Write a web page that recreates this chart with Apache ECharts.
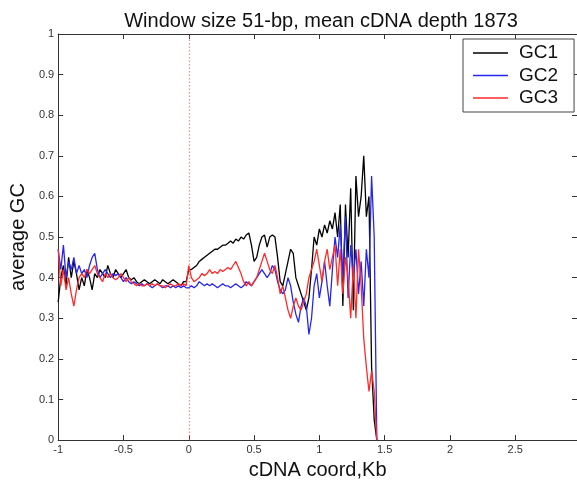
<!DOCTYPE html>
<html>
<head>
<meta charset="utf-8">
<script src="https://cdn.jsdelivr.net/npm/echarts@6/dist/echarts.min.js"></script>
<style>html,body{margin:0;padding:0;background:#fff}#c{width:577px;height:485px}</style>
</head>
<body>
<div id="c"></div>
<script>
var coords = [-1.00,-0.98,-0.96,-0.94,-0.92,-0.90,-0.88,-0.86,-0.84,-0.82,
-0.80,-0.78,-0.76,-0.74,-0.72,-0.70,-0.68,-0.66,-0.64,-0.62,
-0.60,-0.58,-0.56,-0.54,-0.52,-0.50,-0.48,-0.46,-0.44,-0.42,
-0.40,-0.38,-0.36,-0.34,-0.32,-0.30,-0.28,-0.26,-0.24,-0.22,
-0.20,-0.18,-0.16,-0.14,-0.12,-0.10,-0.08,-0.06,-0.04,-0.02,
0.00,0.02,0.04,0.06,0.08,0.10,0.12,0.14,0.16,0.18,
0.20,0.22,0.24,0.26,0.28,0.30,0.32,0.34,0.36,0.38,
0.40,0.42,0.44,0.46,0.48,0.50,0.52,0.54,0.56,0.58,
0.60,0.62,0.64,0.66,0.68,0.70,0.72,0.74,0.76,0.78,
0.80,0.82,0.84,0.86,0.88,0.90,0.92,0.94,0.96,0.98,
1.00,1.02,1.04,1.06,1.08,1.10,1.12,1.14,1.16,1.18,
1.20,1.22,1.24,1.26,1.28,1.30,1.32,1.34,1.36,1.38,
1.40,1.42,1.44];

var gc1 = [0.34,0.40,0.43,0.38,0.45,0.40,0.44,0.41,0.37,0.40,
0.38,0.42,0.40,0.37,0.41,0.40,0.42,0.41,0.40,0.43,
0.41,0.40,0.42,0.41,0.40,0.41,0.42,0.40,0.395,0.40,
0.39,0.385,0.39,0.395,0.39,0.385,0.39,0.395,0.39,0.385,
0.395,0.39,0.385,0.39,0.395,0.39,0.385,0.38,0.39,0.39,
0.42,0.42,0.425,0.43,0.44,0.445,0.45,0.455,0.46,0.465,
0.47,0.47,0.475,0.48,0.48,0.485,0.49,0.485,0.495,0.49,
0.50,0.495,0.505,0.51,0.48,0.44,0.45,0.48,0.50,0.505,
0.475,0.50,0.505,0.50,0.45,0.39,0.38,0.41,0.44,0.47,
0.46,0.40,0.38,0.36,0.34,0.32,0.35,0.42,0.50,0.48,
0.52,0.50,0.53,0.51,0.54,0.52,0.56,0.50,0.58,0.33,
0.58,0.45,0.62,0.32,0.65,0.55,0.60,0.70,0.55,0.60,
0.18,0.05,0.00];

var gc2 = [0.47,0.42,0.48,0.40,0.44,0.42,0.45,0.41,0.43,0.41,
0.42,0.40,0.43,0.45,0.46,0.42,0.40,0.41,0.42,0.41,
0.40,0.41,0.405,0.41,0.40,0.39,0.40,0.39,0.385,0.39,
0.385,0.38,0.385,0.38,0.385,0.38,0.375,0.38,0.385,0.38,
0.375,0.38,0.38,0.375,0.38,0.375,0.38,0.375,0.38,0.375,
0.375,0.38,0.375,0.38,0.39,0.385,0.38,0.385,0.38,0.385,
0.38,0.375,0.38,0.385,0.38,0.38,0.375,0.38,0.385,0.38,
0.375,0.38,0.39,0.385,0.38,0.39,0.40,0.41,0.42,0.41,
0.40,0.41,0.43,0.42,0.39,0.37,0.36,0.37,0.40,0.38,
0.34,0.31,0.29,0.33,0.35,0.33,0.26,0.30,0.38,0.41,
0.35,0.39,0.44,0.38,0.33,0.42,0.50,0.45,0.53,0.40,
0.55,0.35,0.48,0.40,0.47,0.36,0.44,0.33,0.47,0.40,
0.65,0.50,0.00];

var gc3 = [0.47,0.38,0.42,0.37,0.40,0.36,0.33,0.37,0.40,0.41,
0.40,0.42,0.41,0.42,0.43,0.41,0.40,0.39,0.41,0.40,
0.41,0.40,0.395,0.40,0.41,0.40,0.39,0.40,0.39,0.385,
0.38,0.385,0.38,0.38,0.385,0.38,0.385,0.38,0.385,0.38,
0.38,0.375,0.38,0.385,0.38,0.38,0.385,0.38,0.385,0.38,
0.43,0.40,0.39,0.395,0.40,0.41,0.405,0.41,0.42,0.41,
0.415,0.41,0.42,0.415,0.42,0.425,0.42,0.43,0.44,0.425,
0.41,0.39,0.38,0.39,0.38,0.39,0.40,0.42,0.44,0.46,
0.44,0.42,0.41,0.43,0.40,0.36,0.38,0.35,0.32,0.30,
0.33,0.35,0.33,0.32,0.34,0.36,0.40,0.42,0.44,0.47,
0.43,0.39,0.44,0.47,0.42,0.45,0.48,0.38,0.47,0.36,
0.45,0.40,0.30,0.43,0.30,0.47,0.38,0.25,0.18,0.12,
0.17,0.12,0.00];

var seriesNames = ['GC1', 'GC2', 'GC3'];
var seriesColors = ['#000000', '#2626f0', '#ff2a2a'];
var seriesValues = [gc1, gc2, gc3];

function pairs(vals) {
  return coords.map(function (x, i) { return [x, vals[i]]; });
}

var font = '"Liberation Sans", Arial, sans-serif';
var axisCol = '#333';

var series = seriesNames.map(function (n, k) {
  var s = {
    name: n, type: 'line', data: pairs(seriesValues[k]),
    showSymbol: false, symbol: 'none',
    lineStyle: { color: seriesColors[k], width: 1.3 },
    itemStyle: { color: seriesColors[k] },
    z: 3 + k
  };
  if (k === 0) {
    s.markLine = {
      silent: true, symbol: 'none', animation: false,
      label: { show: false },
      lineStyle: { color: '#ff5a5a', type: [1.5, 2], width: 1.2, opacity: 0.7 },
      data: [{ xAxis: 0, lineStyle: { color: '#ff5a5a' } }]
    };
  }
  return s;
});

var chart = echarts.init(document.getElementById('c'), null, { renderer: 'canvas' });
chart.setOption({
  animation: false,
  backgroundColor: '#fff',
  title: {
    text: 'Window size 51-bp, mean cDNA depth 1873',
    left: 316, top: 6, textAlign: 'center',
    textStyle: { fontFamily: font, fontSize: 20, fontWeight: 'normal', color: '#111' }
  },
  grid: { left: 54, right: 0, top: 34, bottom: 37, containLabel: false },
  legend: {
    data: seriesNames,
    orient: 'vertical', left: 463, top: 39,
    icon: 'rect', itemWidth: 35, itemHeight: 1.5, itemGap: 2.5,
    padding: [4, 16, 4, 10],
    borderColor: '#444', borderWidth: 1, backgroundColor: '#fff',
    textStyle: { fontFamily: font, fontSize: 19, color: '#111', lineHeight: 20, padding: [0, 0, 0, 6] }
  },
  xAxis: [{
    type: 'value', min: -1, max: 2.973, interval: 0.5,
    name: 'cDNA coord,Kb', nameLocation: 'middle', nameGap: 14,
    nameTextStyle: { fontFamily: font, fontSize: 20, color: '#111' },
    axisLine: { show: true, onZero: false, lineStyle: { color: axisCol, width: 1 } },
    axisTick: { show: true, inside: true, length: 5, lineStyle: { color: axisCol } },
    axisLabel: { fontFamily: font, fontSize: 11, color: '#333', margin: 4, showMaxLabel: false },
    splitLine: { show: false }
  }, {
    type: 'value', min: -1, max: 2.973, interval: 0.5, position: 'top',
    axisLine: { show: true, onZero: false, lineStyle: { color: axisCol, width: 1 } },
    axisTick: { show: true, inside: true, length: 5, lineStyle: { color: axisCol } },
    axisLabel: { show: false },
    splitLine: { show: false }
  }],
  yAxis: [{
    type: 'value', min: 0, max: 1, interval: 0.1,
    name: 'average GC', nameLocation: 'middle', nameGap: 24,
    nameTextStyle: { fontFamily: font, fontSize: 20, color: '#111' },
    axisLine: { show: true, onZero: false, lineStyle: { color: axisCol, width: 1 } },
    axisTick: { show: true, inside: true, length: 5, lineStyle: { color: axisCol } },
    axisLabel: { fontFamily: font, fontSize: 11, color: '#333', margin: 4 },
    splitLine: { show: false }
  }, {
    type: 'value', min: 0, max: 1, interval: 0.1, position: 'right',
    axisLine: { show: true, onZero: false, lineStyle: { color: axisCol, width: 1 } },
    axisTick: { show: true, inside: true, length: 5, lineStyle: { color: axisCol } },
    axisLabel: { show: false },
    splitLine: { show: false }
  }],
  series: series
});
</script>
</body>
</html>
